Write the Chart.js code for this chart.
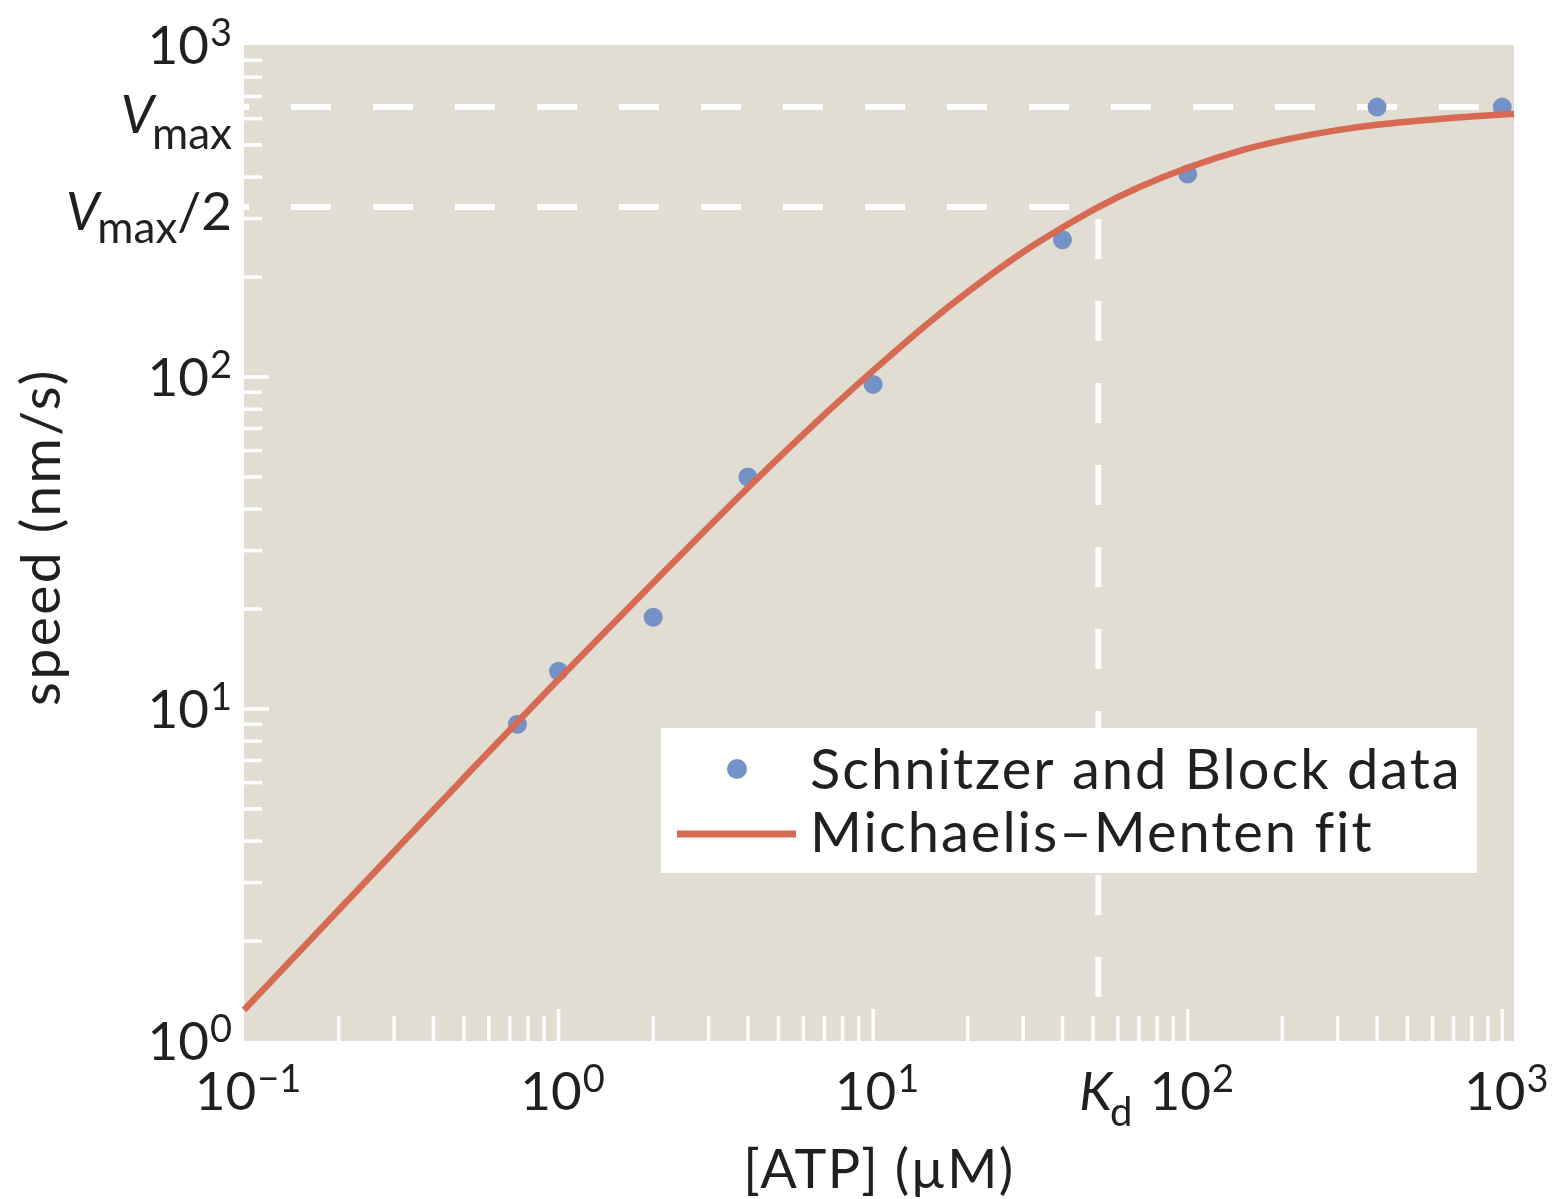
<!DOCTYPE html>
<html>
<head>
<meta charset="utf-8">
<title>speed vs [ATP]</title>
<script src="https://cdn.jsdelivr.net/npm/chart.js@4.4.0/dist/chart.umd.min.js"></script>
<style>
    html, body { margin: 0; padding: 0; background: #ffffff; }
    #grafico { display: block; }
</style>
</head>
<body>
<canvas id="grafico" width="1567" height="1199"></canvas>
<script>
// Dados medidos: [ATP] (µM) e velocidade (nm/s)
const atp = [0.74, 1, 2, 4, 10, 40, 100, 400, 1000];
const speed = [9.0, 13.0, 18.9, 50, 95, 259, 409, 650, 650];

// Curva de ajuste Michaelis–Menten, lida ao longo da linha
const fitAtp = [0.1, 0.2, 0.5, 1, 2, 4, 7, 10, 15, 20, 30, 40, 52, 70, 100, 150, 200, 300, 400, 700, 1000, 1090];
const fitSpeed = [1.24, 2.48, 6.2, 12.3, 24.0, 46.4, 77, 104.5, 145.5, 180.5, 238, 282, 325, 373, 427, 483, 516, 554, 575, 604, 618, 620];

// Parâmetros marcados no gráfico
const vmax = 650;
const kd = 52;

// Décadas dos eixos e expoentes dos rótulos
const xDecades = [0.1, 1, 10, 100, 1000];
const xExps = ['\u22121', '0', '1', '2', '3'];
const yDecades = [1, 10, 100, 1000];
const yExps = ['0', '1', '2', '3'];

const labelSerieDados = 'Schnitzer and Block data';
const labelSerieFit = 'Michaelis\u2013Menten fit';
const tituloX = '[ATP] (\u00B5M)';
const tituloY = 'speed (nm/s)';

const FONTE = 'Lato, "Open Sans", sans-serif';
const TINTA = '#231f20';
const FUNDO = '#e2ddd2';
const AZUL = '#7492c5';
const LARANJA = '#d66a53';

function fonte(tam, italico) {
    return (italico ? 'italic ' : '') + tam + 'px ' + FONTE;
}

// Escreve "10" com o expoente sobrescrito
function potencia(ctx, exp, x, base, alinhamento) {
    ctx.font = fonte(53);
    const wBase = ctx.measureText('10').width;
    ctx.font = fonte(38);
    const wExp = ctx.measureText(exp).width;
    const largura = wBase + 1 + wExp;
    const x0 = alinhamento === 'right' ? x - largura : x - largura / 2;
    ctx.font = fonte(53);
    ctx.fillText('10', x0, base);
    ctx.font = fonte(38);
    ctx.fillText(exp, x0 + wBase + 1, base - 18);
}

// Escreve V com índice "max" (e um sufixo opcional), alinhado à direita
function rotuloV(ctx, sufixo, xDir, base, desloc) {
    ctx.font = fonte(53, true);
    const wV = ctx.measureText('V').width;
    ctx.font = fonte(44);
    const wMax = ctx.measureText('max').width;
    ctx.font = fonte(53);
    const wSuf = sufixo ? ctx.measureText(sufixo).width : 0;
    let x = xDir - (wV + wMax + wSuf - 2);
    ctx.font = fonte(53, true);
    ctx.fillText('V', x, base);
    x += wV - 2;
    ctx.font = fonte(44);
    ctx.fillText('max', x, base + desloc);
    x += wMax;
    if (sufixo) {
        ctx.font = fonte(53);
        ctx.fillText(sufixo, x, base);
    }
}

const pluginMoldura = {
    id: 'moldura',
    beforeDraw(chart) {
        const { ctx, chartArea: a } = chart;
        ctx.save();
        ctx.fillStyle = FUNDO;
        ctx.fillRect(a.left, a.top, a.right - a.left, a.bottom - a.top);
        ctx.restore();
    },
    beforeDatasetsDraw(chart) {
        const { ctx, chartArea: a, scales } = chart;
        const sx = scales.x, sy = scales.y;
        ctx.save();
        ctx.beginPath();
        ctx.rect(a.left, a.top, a.right - a.left, a.bottom - a.top);
        ctx.clip();

        // Marcas dos eixos, brancas e por dentro da área
        ctx.strokeStyle = '#ffffff';
        ctx.lineWidth = 3.5;
        xDecades.forEach(d => {
            for (let m = 1; m <= 9; m++) {
                const px = sx.getPixelForValue(m * d);
                if (px <= a.left + 2 || px >= a.right - 2) continue;
                const comp = m === 1 ? 32 : 25;
                ctx.beginPath();
                ctx.moveTo(px, a.bottom);
                ctx.lineTo(px, a.bottom - comp);
                ctx.stroke();
            }
        });
        yDecades.forEach(d => {
            for (let m = 1; m <= 9; m++) {
                const py = sy.getPixelForValue(m * d);
                if (py <= a.top + 2 || py >= a.bottom - 2) continue;
                const comp = m === 1 ? 25 : 18;
                ctx.beginPath();
                ctx.moveTo(a.left, py);
                ctx.lineTo(a.left + comp, py);
                ctx.stroke();
            }
        });

        // Linhas tracejadas de Vmax, Vmax/2 e Kd
        const yV = sy.getPixelForValue(vmax);
        const yV2 = sy.getPixelForValue(vmax / 2);
        const xK = sx.getPixelForValue(kd);
        ctx.lineWidth = 6;
        ctx.setLineDash([40, 42]);
        ctx.lineDashOffset = 35;
        ctx.beginPath();
        ctx.moveTo(a.left, yV);
        ctx.lineTo(a.right, yV);
        ctx.stroke();
        ctx.beginPath();
        ctx.moveTo(a.left, yV2);
        ctx.lineTo(xK, yV2);
        ctx.stroke();
        ctx.lineDashOffset = 70;
        ctx.beginPath();
        ctx.moveTo(xK, yV2);
        ctx.lineTo(xK, a.bottom - 4);
        ctx.stroke();
        ctx.restore();
    },
    afterDraw(chart) {
        const { ctx, chartArea: a, scales } = chart;
        const sx = scales.x, sy = scales.y;
        ctx.save();
        ctx.fillStyle = TINTA;
        ctx.textAlign = 'left';
        ctx.textBaseline = 'alphabetic';

        // Rótulos do eixo x
        xDecades.forEach((d, i) => {
            potencia(ctx, xExps[i], sx.getPixelForValue(d) + 4, a.bottom + 69, 'center');
        });
        const xK = sx.getPixelForValue(kd);
        ctx.font = fonte(53, true);
        ctx.fillText('K', xK - 19, a.bottom + 69);
        const wK = ctx.measureText('K').width;
        ctx.font = fonte(40);
        ctx.fillText('d', xK - 19 + wK - 2, a.bottom + 85);

        // Rótulos do eixo y
        yDecades.forEach((d, i) => {
            potencia(ctx, yExps[i], a.left - 12, sy.getPixelForValue(d) + 19, 'right');
        });
        rotuloV(ctx, '', a.left - 12, sy.getPixelForValue(vmax) + 26, 16);
        rotuloV(ctx, '/2', a.left - 12, sy.getPixelForValue(vmax / 2) + 23, 13);

        // Títulos dos eixos
        ctx.font = fonte(54);
        ctx.letterSpacing = '1.5px';
        ctx.textAlign = 'center';
        ctx.fillText(tituloX, (a.left + a.right) / 2, a.bottom + 147);
        ctx.save();
        ctx.translate(60, 537);
        ctx.rotate(-Math.PI / 2);
        ctx.letterSpacing = '2.5px';
        ctx.font = fonte(55);
        ctx.fillText(tituloY, 0, 0);
        ctx.restore();

        // Legenda
        const lx = a.left + 417, ly = a.top + 683;
        ctx.fillStyle = '#ffffff';
        ctx.fillRect(lx, ly, 816, 145);
        ctx.fillStyle = AZUL;
        ctx.beginPath();
        ctx.arc(lx + 76, ly + 41, 10, 0, Math.PI * 2);
        ctx.fill();
        ctx.strokeStyle = LARANJA;
        ctx.lineWidth = 7;
        ctx.beginPath();
        ctx.moveTo(lx + 16, ly + 106);
        ctx.lineTo(lx + 135, ly + 106);
        ctx.stroke();
        ctx.fillStyle = TINTA;
        ctx.textAlign = 'left';
        ctx.font = fonte(56);
        ctx.letterSpacing = '2px';
        ctx.fillText(chart.data.datasets[1].label, lx + 149, ly + 61);
        ctx.fillText(chart.data.datasets[0].label, lx + 149, ly + 124);
        ctx.restore();
    }
};

const ctx = document.getElementById('grafico').getContext('2d');
const grafico = new Chart(ctx, {
    type: 'scatter',
    data: {
        datasets: [
            {
                type: 'line',
                label: labelSerieFit,
                data: fitAtp.map((x, i) => ({ x: x, y: fitSpeed[i] })),
                borderColor: LARANJA,
                borderWidth: 6.5,
                pointRadius: 0,
                fill: false,
                cubicInterpolationMode: 'monotone',
                clip: 6,
                order: 0
            },
            {
                label: labelSerieDados,
                data: atp.map((x, i) => ({ x: x, y: speed[i] })),
                backgroundColor: AZUL,
                borderWidth: 0,
                pointRadius: 9.5,
                pointHoverRadius: 9.5,
                order: 1
            }
        ]
    },
    options: {
        responsive: false,
        animation: false,
        devicePixelRatio: 1,
        layout: { padding: { left: 244, top: 45, right: 53, bottom: 158 } },
        scales: {
            x: { type: 'logarithmic', min: 0.1, max: 1090, display: false },
            y: { type: 'logarithmic', min: 1, max: 1000, display: false }
        },
        plugins: {
            legend: { display: false },
            tooltip: { enabled: false }
        },
        events: []
    },
    plugins: [pluginMoldura]
});
</script>
</body>
</html>
